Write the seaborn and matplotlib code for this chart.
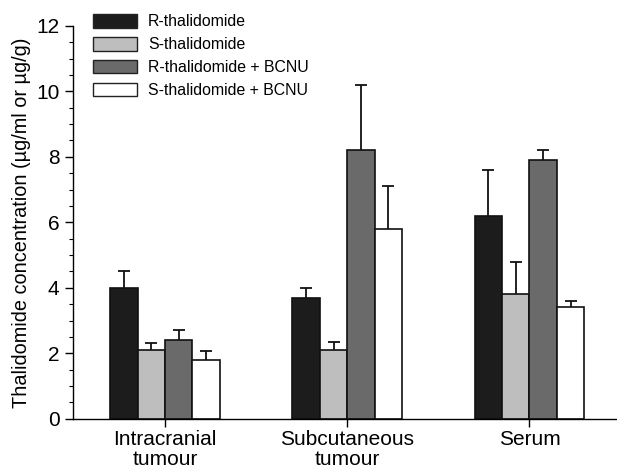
import matplotlib
matplotlib.use("Agg")
import matplotlib.pyplot as plt
import seaborn as sns
import pandas as pd
from matplotlib.ticker import MultipleLocator

sites = ["Intracranial\ntumour", "Subcutaneous\ntumour", "Serum"]
groups = ["R-thalidomide", "S-thalidomide", "R-thalidomide + BCNU", "S-thalidomide + BCNU"]
r_thal = [4.0, 3.7, 6.2]
s_thal = [2.1, 2.1, 3.8]
r_bcnu = [2.4, 8.2, 7.9]
s_bcnu = [1.8, 5.8, 3.4]
r_thal_err = [0.5, 0.3, 1.4]
s_thal_err = [0.2, 0.25, 1.0]
r_bcnu_err = [0.3, 2.0, 0.3]
s_bcnu_err = [0.27, 1.3, 0.2]
colors = ["#1c1c1c", "#bebebe", "#6a6a6a", "#ffffff"]

vals = [r_thal, s_thal, r_bcnu, s_bcnu]
errs = [r_thal_err, s_thal_err, r_bcnu_err, s_bcnu_err]
rows = []
for g, v, e in zip(groups, vals, errs):
    for s, vi, ei in zip(sites, v, e):
        rows.append({"site": s, "group": g, "value": vi, "err": ei})
df = pd.DataFrame(rows)

sns.set_style("ticks")
plt.rcParams["font.family"] = ["Liberation Sans", "DejaVu Sans"]
plt.rcParams["text.color"] = "black"
plt.rcParams["axes.labelcolor"] = "black"
plt.rcParams["xtick.color"] = "black"
plt.rcParams["ytick.color"] = "black"
plt.rcParams["axes.edgecolor"] = "black"

fig = plt.figure(figsize=(6.17, 4.69), dpi=100)
ax = fig.add_axes([0.118, 0.107, 0.882, 0.838])
sns.barplot(data=df, x="site", y="value", hue="group", order=sites, hue_order=groups,
            palette=colors, width=0.6, gap=0, errorbar=None, edgecolor="#111111",
            linewidth=1.2, ax=ax, zorder=2)

# error bars (upper only) from bar positions
for container, g in zip(ax.containers, groups):
    sub = df[df["group"] == g].set_index("site").loc[sites]
    for bar, (_, r) in zip(container, sub.iterrows()):
        xc = bar.get_x() + bar.get_width() / 2
        eb = ax.errorbar(xc, r["value"], yerr=[[0], [r["err"]]], fmt="none",
                         ecolor="#111111", elinewidth=1.3, capsize=4.5, capthick=1.3, zorder=1)
        caps = eb.lines[1]
        if len(caps) > 1:
            caps[0].set_visible(False)

ax.set_ylim(0, 12)
ax.set_xlim(-0.505, 2.48)
ax.yaxis.set_major_locator(MultipleLocator(2))
ax.yaxis.set_minor_locator(MultipleLocator(0.5))
ax.tick_params(axis="y", which="major", length=6, width=1, labelsize=15, direction="out")
ax.tick_params(axis="y", which="minor", length=3, width=0.8, direction="out")
ax.tick_params(axis="x", length=6, width=1, labelsize=15, direction="out", pad=2)
ax.set_xlabel("")
ax.set_ylabel("Thalidomide concentration (µg/ml or µg/g)", fontsize=14.3, labelpad=4)
sns.despine(ax=ax)
for sp in ["left", "bottom"]:
    ax.spines[sp].set_linewidth(1.0)

for t in ax.get_xticklabels():
    t.set_linespacing(1.1)

leg = ax.legend(loc="upper left", bbox_to_anchor=(0.026, 1.045), frameon=False, fontsize=11.4,
                handlelength=2.75, handleheight=0.9, labelspacing=0.5, handletextpad=0.7,
                borderaxespad=0)
for h in leg.legend_handles:
    h.set_edgecolor("#222222")
    h.set_linewidth(1.0)

fig.savefig("out.png", dpi=100)
